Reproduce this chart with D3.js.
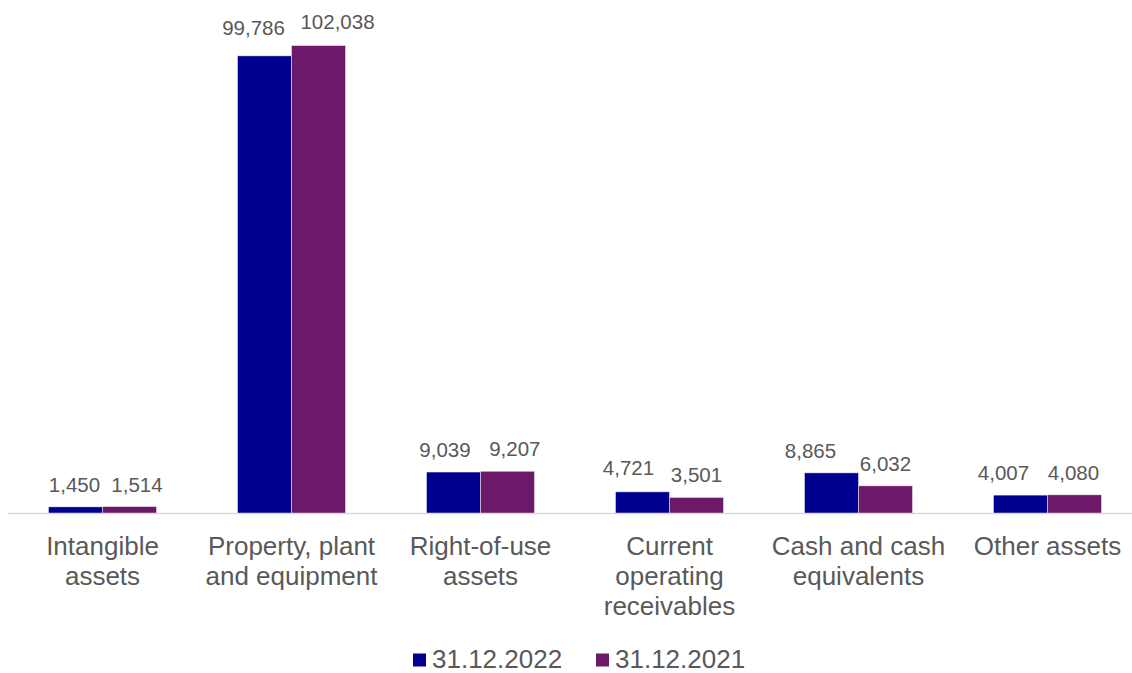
<!DOCTYPE html>
<html>
<head>
<meta charset="utf-8">
<script src="https://cdn.jsdelivr.net/npm/d3@7/dist/d3.min.js"></script>
<style>
  html, body { margin: 0; padding: 0; background: #fff; }
  svg { display: block; font-family: "Liberation Sans", Arial, sans-serif; }
</style>
</head>
<body>
<svg id="chart" width="1132" height="673"></svg>
<script>
// Asset categories (each entry split into its displayed lines)
const categories = [
  ["Intangible", "assets"],
  ["Property, plant", "and equipment"],
  ["Right-of-use", "assets"],
  ["Current", "operating", "receivables"],
  ["Cash and cash", "equivalents"],
  ["Other assets"]
];
const seriesNames = ["31.12.2022", "31.12.2021"];
const values2022 = [1450, 99786, 9039, 4721, 8865, 4007];
const values2021 = [1514, 102038, 9207, 3501, 6032, 4080];
const seriesColors = ["#000090", "#6D196A"];

// Manual nudges for data labels so neighbouring labels don't collide
const labelShiftX2022 = [-1, -11, -8.5, -14, -21, -17];
const labelShiftX2021 = [7.5, 19, 7.3, 0, 0, -1];
const labelShiftY2022 = [0, -5.7, 0, -1.8, 0, 0];
const labelShiftY2021 = [0, -2, 0, 0, 0, 0];

const svg = d3.select("#chart");
const textColor = "#595959";

const plot = { left: 8, right: 1142, top: 9, bottom: 513.5 };

const x0 = d3.scaleBand()
  .domain(d3.range(categories.length))
  .range([plot.left, plot.right])
  .paddingInner(0.4285)
  .paddingOuter(0.2143);

const x1 = d3.scaleBand()
  .domain([0, 1])
  .range([0, x0.bandwidth()]);

const y = d3.scaleLinear()
  .domain([0, 110000])
  .range([plot.bottom, plot.top]);

const seriesData = [values2022, values2021];
const shiftX = [labelShiftX2022, labelShiftX2021];
const shiftY = [labelShiftY2022, labelShiftY2021];
const fmt = d3.format(",");

// Bars
const groups = svg.append("g").selectAll("g")
  .data(categories.map((c, i) => i))
  .join("g")
  .attr("transform", i => `translate(${x0(i)},0)`);

groups.selectAll("rect")
  .data(i => seriesData.map((s, k) => ({ k, i, v: s[i] })))
  .join("rect")
  .attr("x", d => x1(d.k))
  .attr("y", d => y(d.v))
  .attr("width", x1.bandwidth())
  .attr("height", d => y(0) - y(d.v))
  .attr("fill", d => seriesColors[d.k])
  .attr("stroke", "#ffffff")
  .attr("stroke-opacity", 0.6)
  .attr("stroke-width", 0.75);

// Value labels
groups.selectAll("text.val")
  .data(i => seriesData.map((s, k) => ({ k, i, v: s[i] })))
  .join("text")
  .attr("class", "val")
  .attr("x", d => x1(d.k) + x1.bandwidth() / 2 + shiftX[d.k][d.i])
  .attr("y", d => y(d.v) - 15 + shiftY[d.k][d.i])
  .attr("text-anchor", "middle")
  .attr("font-size", "20.5px")
  .attr("fill", textColor)
  .text(d => fmt(d.v));

// Category axis
const xAxis = d3.axisBottom(x0).tickSize(0).tickFormat("");
const axisG = svg.append("g")
  .attr("transform", `translate(0,${plot.bottom})`)
  .call(xAxis);
axisG.select(".domain")
  .attr("stroke", "#d9d9d9")
  .attr("stroke-width", 1.5)
  .attr("d", `M${plot.left},0H1132`);

axisG.selectAll(".tick").each(function(i) {
  const t = d3.select(this).append("text")
    .attr("text-anchor", "middle")
    .attr("font-size", "26px")
    .attr("fill", textColor)
    .attr("y", 41.5);
  categories[i].forEach((line, j) => {
    t.append("tspan")
      .attr("x", 0)
      .attr("dy", j === 0 ? 0 : 30)
      .text(line);
  });
});

// Legend
const legendItems = [
  { name: seriesNames[0], color: seriesColors[0], x: 413 },
  { name: seriesNames[1], color: seriesColors[1], x: 596 }
];
const legend = svg.append("g");
legendItems.forEach(it => {
  legend.append("rect")
    .attr("x", it.x).attr("y", 653.5)
    .attr("width", 13).attr("height", 13)
    .attr("fill", it.color);
  legend.append("text")
    .attr("x", it.x + 19).attr("y", 668)
    .attr("font-size", "26px")
    .attr("fill", textColor)
    .text(it.name);
});
</script>
</body>
</html>
